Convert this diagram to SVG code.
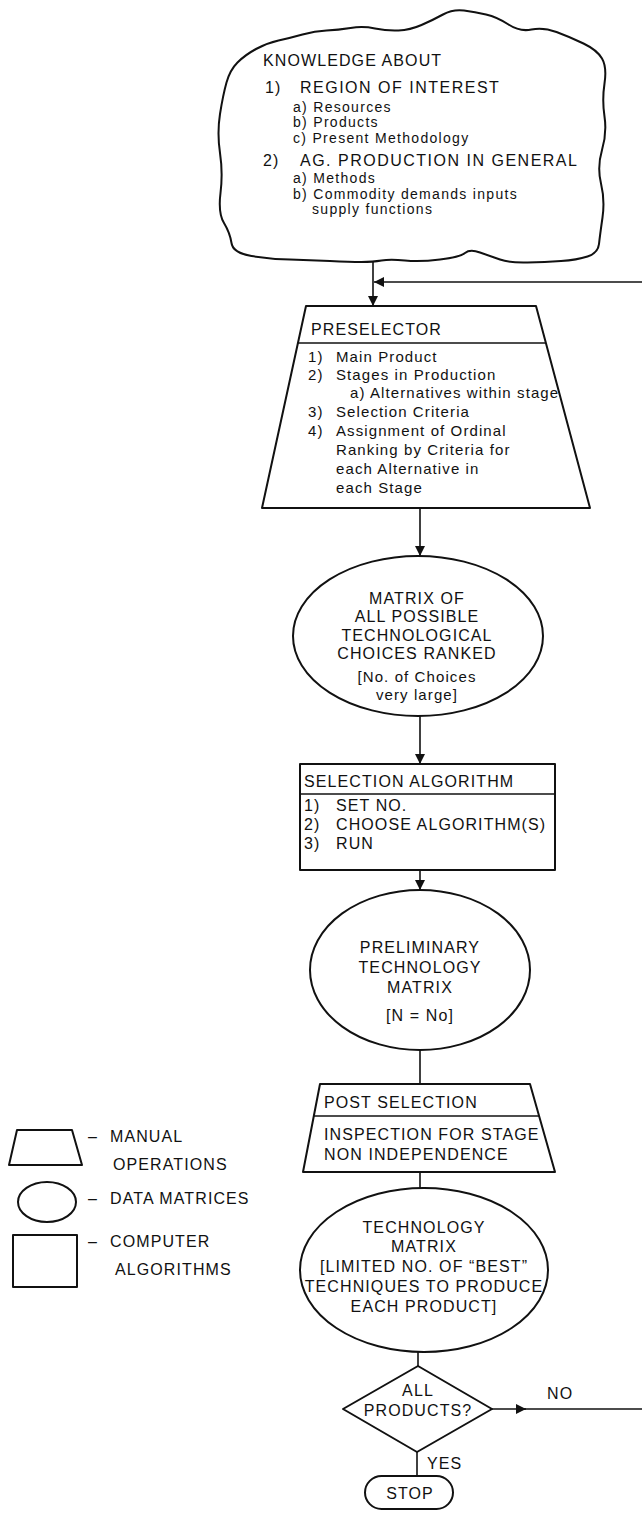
<svg xmlns="http://www.w3.org/2000/svg" width="642" height="1518" viewBox="0 0 642 1518">
<style>
.sh{fill:none;stroke:#111;stroke-width:2;stroke-linejoin:round}
.ln{fill:none;stroke:#111;stroke-width:1.6}
.t{font-family:"Liberation Sans",Arial,Helvetica,sans-serif;font-size:16px;letter-spacing:1.1px;fill:#111}
.c{letter-spacing:1.5px}
.s{font-size:15px}
.x{font-size:14px;letter-spacing:1.3px}
.m{text-anchor:middle}
</style>
<defs>
<marker id="arr" markerUnits="userSpaceOnUse" markerWidth="10" markerHeight="12" refX="10" refY="5" orient="auto">
<path d="M0,0 L10,5 L0,10 z" fill="#111"/>
</marker>
</defs>
<rect width="642" height="1518" fill="#fff"/>

<g id="cloud">
<path class="sh" d="M256 49 Q267 43 278.5 40.5 Q290 38 302.5 34.5 Q315 31 326.5 30.5 Q338 30 350.5 28 Q363 26 375 28.5 Q387 31 398.5 30.5 Q410 30 421.5 25 Q433 20 443 14.5 Q453 9 464 10.5 Q475 12 486 14.5 Q497 17 508.5 24.5 Q520 32 531.5 29.5 Q543 27 556.5 32 Q570 37 583.5 43.5 Q597 50 602 58.5 Q607 67 604.5 83.5 Q602 100 604.5 116.5 Q607 133 602 150 Q597 167 601 183.5 Q605 200 602.5 217.5 Q600 235 599 244 Q598 253 587.5 256.5 Q577 260 561 261 Q545 262 527.5 262.5 Q510 263 500 259.5 Q490 256 480 252.5 Q470 249 465 253 Q460 257 440 259.5 Q420 262 405 260.5 Q390 259 381.5 260.5 Q373 262 361.5 262 Q350 262 330 261 Q310 260 290 259.5 Q270 259 251.5 256 Q233 253 231.5 243 Q230 233 224 223 Q218 213 220.5 193 Q223 173 220 153 Q217 133 220 114 Q223 95 226.5 82.5 Q230 70 237.5 62.5 Q245 55 256 49 Z"/>
<text class="t" x="263" y="66">KNOWLEDGE ABOUT</text>
<text class="t" x="265" y="93">1)</text><text class="t c" x="300" y="93">REGION OF INTEREST</text>
<text class="t x" x="293" y="112">a) Resources</text>
<text class="t x" x="293" y="127">b) Products</text>
<text class="t x" x="293" y="143">c) Present Methodology</text>
<text class="t" x="263" y="166">2)</text><text class="t c" x="300" y="166">AG. PRODUCTION IN GENERAL</text>
<text class="t x" x="293" y="183">a) Methods</text>
<text class="t x" x="293" y="199">b) Commodity demands inputs</text>
<text class="t x" x="312" y="214">supply functions</text>
</g>

<g id="preselector">
<polygon class="sh" points="306,306 536,306 590,508 262,508"/>
<line class="ln" x1="298" y1="343" x2="546" y2="343"/>
<text class="t" x="311" y="335">PRESELECTOR</text>
<text class="t s" x="308" y="362">1)</text><text class="t s" x="336" y="362">Main Product</text>
<text class="t s" x="308" y="380">2)</text><text class="t s" x="336" y="380">Stages in Production</text>
<text class="t s" x="350" y="398">a) Alternatives within stage</text>
<text class="t s" x="308" y="417">3)</text><text class="t s" x="336" y="417">Selection Criteria</text>
<text class="t s" x="308" y="436">4)</text><text class="t s" x="336" y="436">Assignment of Ordinal</text>
<text class="t s" x="336" y="455">Ranking by Criteria for</text>
<text class="t s" x="336" y="474">each Alternative in</text>
<text class="t s" x="336" y="493">each Stage</text>
</g>

<g id="matrix-all">
<ellipse class="sh" cx="418" cy="636" rx="125" ry="80"/>
<text class="t m" x="417" y="604">MATRIX OF</text>
<text class="t m" x="417" y="622">ALL POSSIBLE</text>
<text class="t m" x="417" y="641">TECHNOLOGICAL</text>
<text class="t m" x="417" y="659">CHOICES RANKED</text>
<text class="t s m" x="417" y="682">[No. of Choices</text>
<text class="t s m" x="417" y="700">very large]</text>
</g>

<g id="selection-algorithm">
<rect class="sh" x="300" y="764" width="255" height="106"/>
<line class="ln" x1="300" y1="794" x2="555" y2="794"/>
<text class="t" x="304" y="787">SELECTION ALGORITHM</text>
<text class="t" x="304" y="811">1)</text><text class="t" x="336" y="811">SET NO.</text>
<text class="t" x="304" y="830">2)</text><text class="t" x="336" y="830">CHOOSE ALGORITHM(S)</text>
<text class="t" x="304" y="849">3)</text><text class="t" x="336" y="849">RUN</text>
</g>

<g id="preliminary-matrix">
<ellipse class="sh" cx="420" cy="970" rx="110" ry="80"/>
<text class="t m" x="420" y="953">PRELIMINARY</text>
<text class="t m" x="420" y="973">TECHNOLOGY</text>
<text class="t m" x="420" y="993">MATRIX</text>
<text class="t m" x="420" y="1021">[N = No]</text>
</g>

<g id="post-selection">
<polygon class="sh" points="320,1084 530,1084 555,1172 303,1172"/>
<line class="ln" x1="314" y1="1116" x2="539" y2="1116"/>
<text class="t" x="324" y="1108">POST SELECTION</text>
<text class="t" x="324" y="1140">INSPECTION FOR STAGE</text>
<text class="t" x="324" y="1160">NON INDEPENDENCE</text>
</g>

<g id="technology-matrix">
<ellipse class="sh" cx="424" cy="1270" rx="124" ry="82"/>
<text class="t m" x="424" y="1233">TECHNOLOGY</text>
<text class="t m" x="424" y="1252">MATRIX</text>
<text class="t m" x="424" y="1272">[LIMITED NO. OF “BEST”</text>
<text class="t m" x="424" y="1292">TECHNIQUES TO PRODUCE</text>
<text class="t m" x="424" y="1312">EACH PRODUCT]</text>
</g>

<g id="decision">
<polygon class="sh" points="418,1366 492,1409 417,1452 343,1409"/>
<text class="t m" x="418" y="1396">ALL</text>
<text class="t m" x="418" y="1416">PRODUCTS?</text>
</g>

<g id="stop">
<rect class="sh" x="365" y="1476" width="88" height="33" rx="16.5"/>
<text class="t m" x="410" y="1499">STOP</text>
</g>

<g id="legend">
<polygon class="sh" points="17,1130 72,1130 82,1165 9,1165"/>
<text class="t" x="88" y="1142">–<tspan x="110">MANUAL</tspan></text>
<text class="t" x="113" y="1170">OPERATIONS</text>
<ellipse class="sh" cx="47" cy="1202" rx="29" ry="20"/>
<text class="t" x="88" y="1204">–<tspan x="110">DATA MATRICES</tspan></text>
<rect class="sh" x="13" y="1235" width="64" height="52"/>
<text class="t" x="88" y="1247">–<tspan x="110">COMPUTER</tspan></text>
<text class="t" x="115" y="1275">ALGORITHMS</text>
</g>

<g id="connectors">
<path class="ln" d="M373 262 V306" marker-end="url(#arr)"/>
<path class="ln" d="M642 282 H374" marker-end="url(#arr)"/>
<path class="ln" d="M420 508 V556" marker-end="url(#arr)"/>
<path class="ln" d="M420 716 V764" marker-end="url(#arr)"/>
<path class="ln" d="M420 870 V890" marker-end="url(#arr)"/>
<path class="ln" d="M420 1050 V1084"/>
<path class="ln" d="M420 1172 V1188"/>
<path class="ln" d="M418 1352 V1366"/>
<path class="ln" d="M492 1409 H526" marker-end="url(#arr)"/>
<path class="ln" d="M524 1409 H642"/>
<text class="t" x="547" y="1399">NO</text>
<path class="ln" d="M417 1452 V1476"/>
<text class="t" x="427" y="1469">YES</text>
</g>
</svg>
